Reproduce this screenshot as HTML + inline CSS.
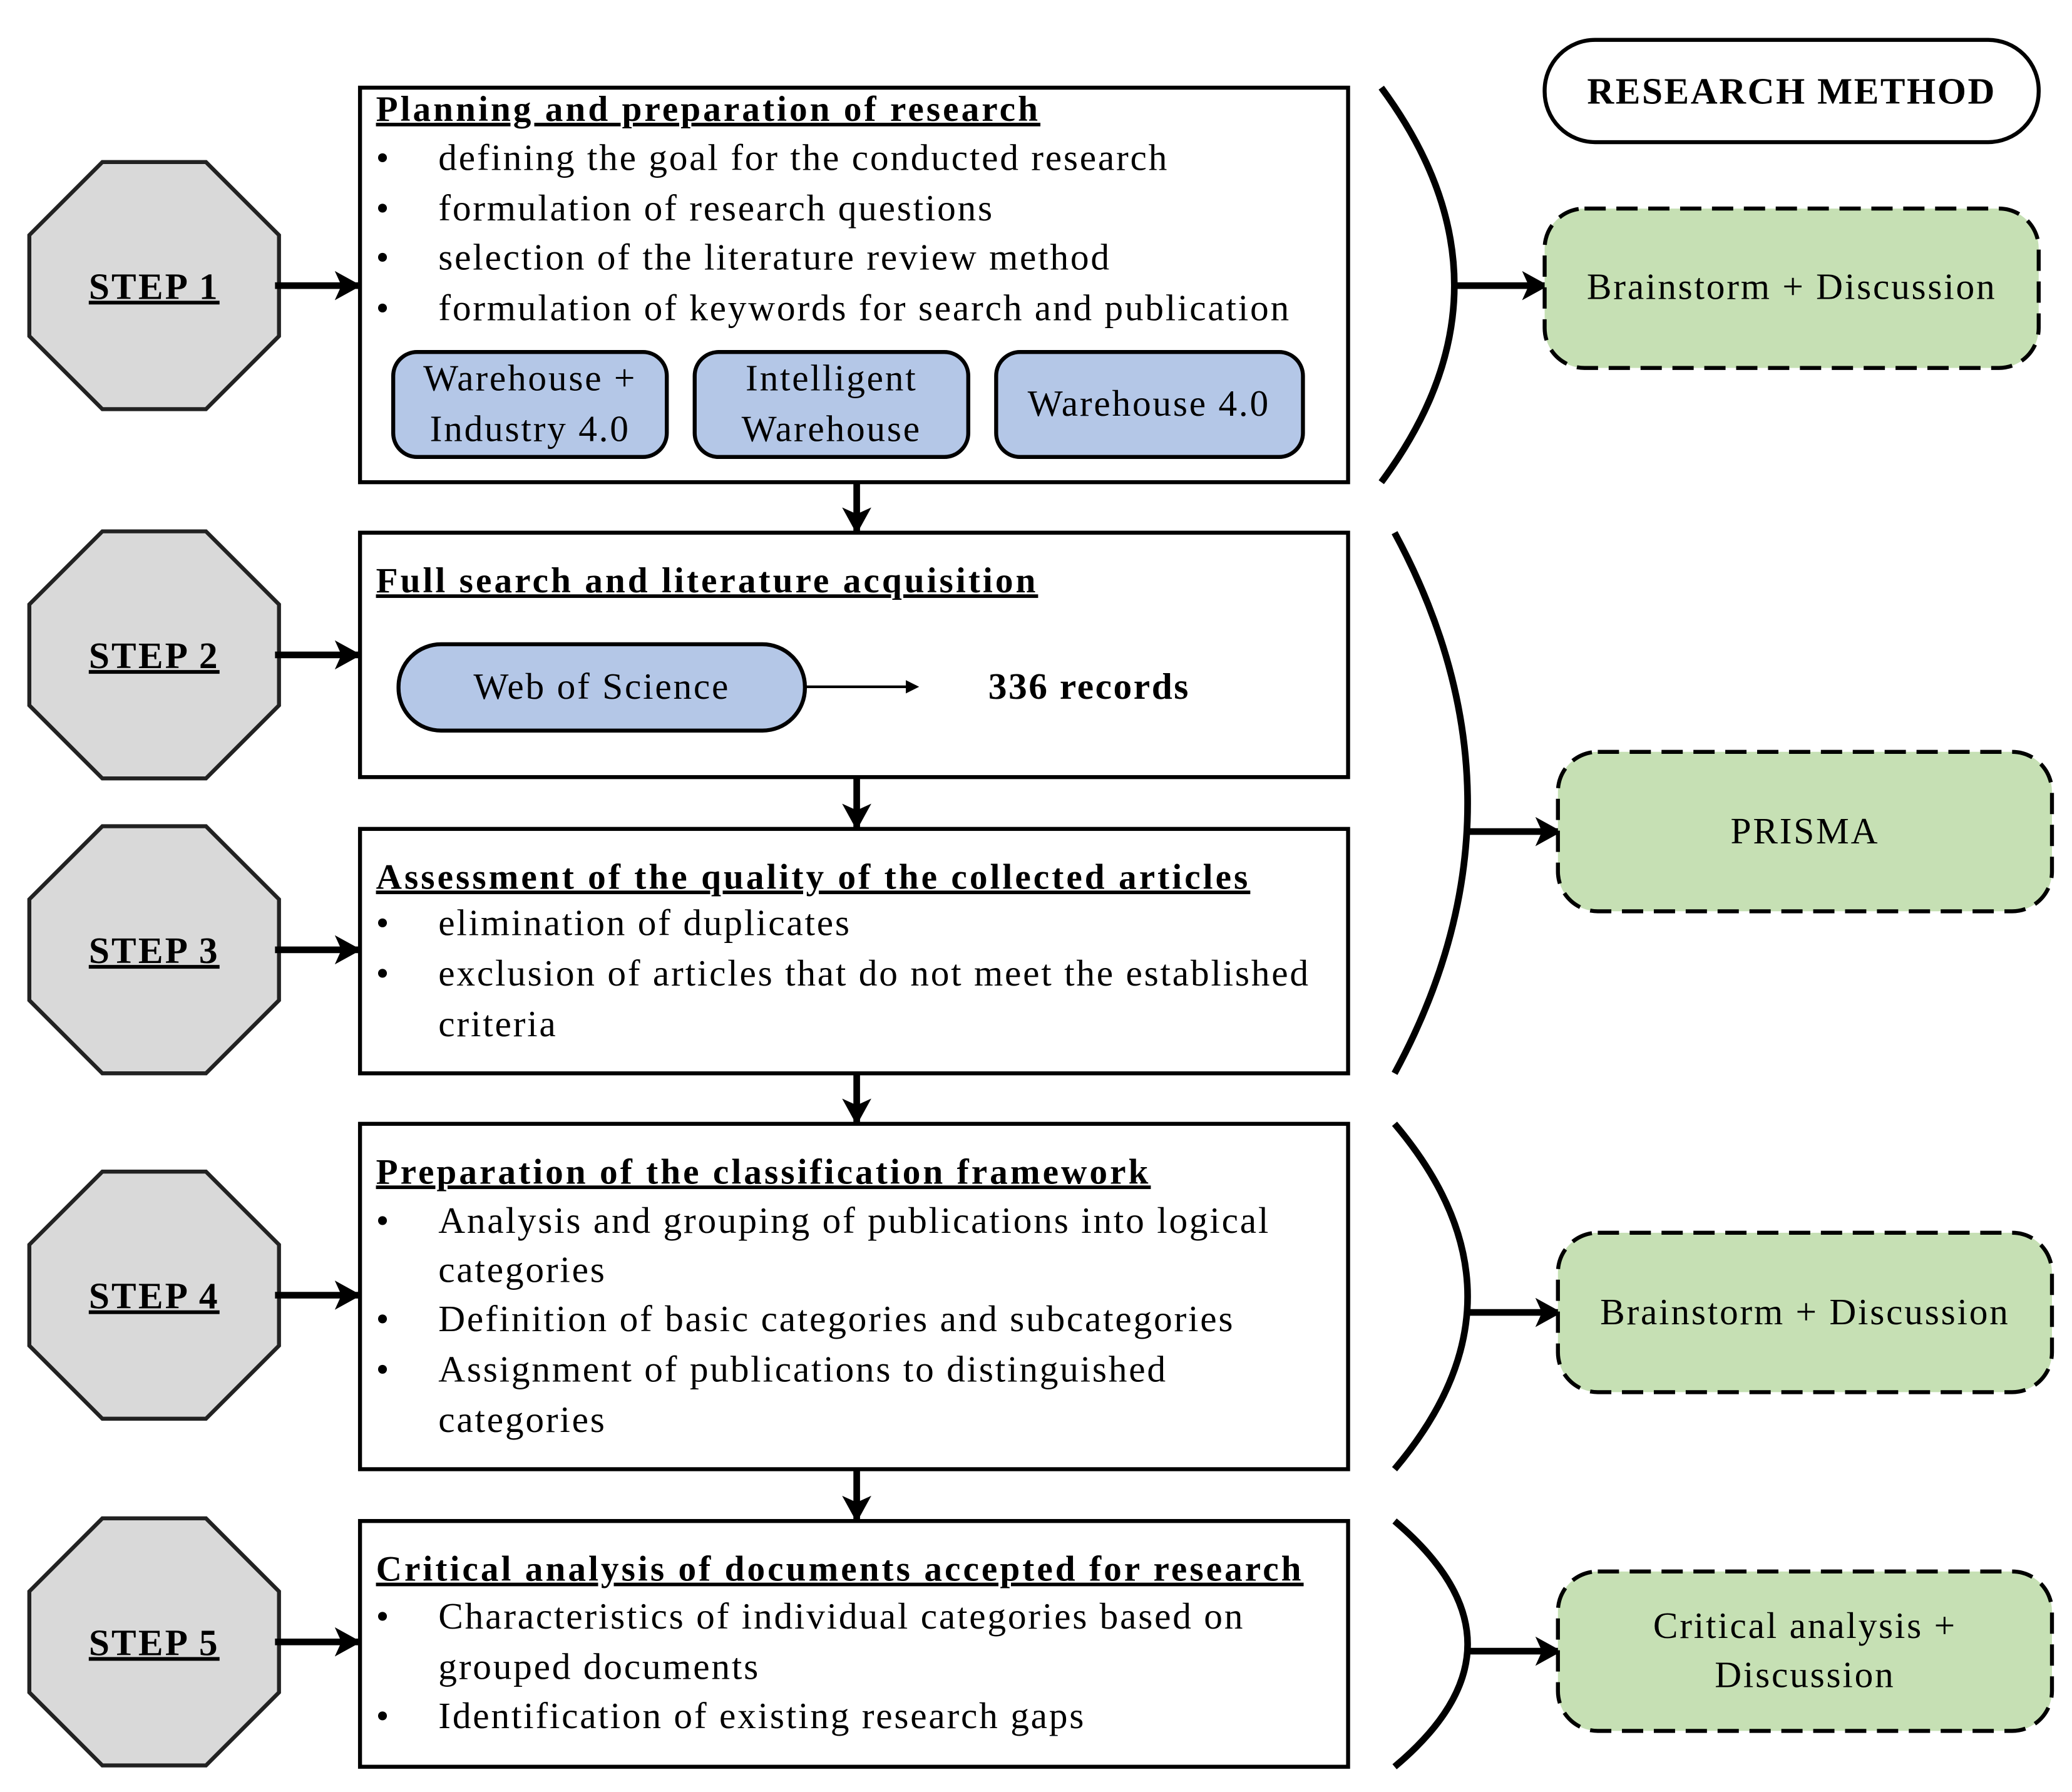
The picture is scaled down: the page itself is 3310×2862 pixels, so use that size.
<!DOCTYPE html>
<html><head><meta charset="utf-8"><style>html,body{margin:0;padding:0;background:#fff}svg{display:block}</style></head><body>
<svg width="3310" height="2862" viewBox="0 0 1560 1349" xmlns="http://www.w3.org/2000/svg" font-family="Liberation Serif, serif">
<defs><marker id="ah" markerWidth="10" markerHeight="10" refX="8" refY="5" orient="auto" markerUnits="userSpaceOnUse"><path d="M0,0 L10,5 L0,10 z" fill="#000"/></marker>
<marker id="ab" markerWidth="22" markerHeight="22" refX="18" refY="11" orient="auto" markerUnits="userSpaceOnUse"><path d="M0,0 L20,11 L0,22 L5,11 z" fill="#000"/></marker></defs>
<g stroke="#222" stroke-width="3" fill="#d9d9d9">
<polygon points="77,122 155,122 210,177 210,253 155,308 77,308 22,253 22,177"/>
<polygon points="77,400 155,400 210,455 210,531 155,586 77,586 22,531 22,455"/>
<polygon points="77,622 155,622 210,677 210,753 155,808 77,808 22,753 22,677"/>
<polygon points="77,882 155,882 210,937 210,1013 155,1068 77,1068 22,1013 22,937"/>
<polygon points="77,1143 155,1143 210,1198 210,1274 155,1329 77,1329 22,1274 22,1198"/>
</g>
<g font-weight="bold" font-size="28" text-anchor="middle" text-decoration="underline" letter-spacing="1.5">
<text x="116" y="225">STEP 1</text><text x="116" y="503">STEP 2</text><text x="116" y="725">STEP 3</text><text x="116" y="985">STEP 4</text><text x="116" y="1246">STEP 5</text>
</g>
<g stroke="#000" stroke-width="5" fill="none" marker-end="url(#ab)">
<line x1="207" y1="215" x2="270" y2="215"/><line x1="207" y1="493" x2="270" y2="493"/><line x1="207" y1="715" x2="270" y2="715"/><line x1="207" y1="975" x2="270" y2="975"/><line x1="207" y1="1236" x2="270" y2="1236"/>
<line x1="645" y1="363" x2="645" y2="400"/><line x1="645" y1="586" x2="645" y2="623"/><line x1="645" y1="808" x2="645" y2="845"/><line x1="645" y1="1106" x2="645" y2="1144"/>
<line x1="1095" y1="215" x2="1164" y2="215"/><line x1="1105" y1="626" x2="1174" y2="626"/><line x1="1105" y1="988" x2="1174" y2="988"/><line x1="1105" y1="1243" x2="1174" y2="1243"/>
</g>
<g stroke="#000" stroke-width="5" fill="none">
<path d="M1040,66 Q1150,215 1040,363"/>
<path d="M1050,401 Q1160,605 1050,808"/>
<path d="M1050,846 Q1160,976 1050,1106"/>
<path d="M1050,1145 Q1160,1238 1050,1330"/>
</g>
<g stroke="#000" stroke-width="3" fill="#fff">
<rect x="271" y="66" width="744" height="297"/><rect x="271" y="401" width="744" height="184"/><rect x="271" y="624" width="744" height="184"/><rect x="271" y="846" width="744" height="260"/><rect x="271" y="1145" width="744" height="185"/>
<rect x="1163" y="30" width="372" height="77" rx="38"/>
</g>
<g stroke="#000" stroke-width="3" fill="#b4c7e7">
<rect x="296" y="265" width="206" height="79" rx="18"/><rect x="523" y="265" width="206" height="79" rx="18"/><rect x="750" y="265" width="231" height="79" rx="18"/><rect x="300" y="485" width="306" height="65" rx="32"/>
</g>
<g stroke="#000" stroke-width="3" fill="#c6e0b4" stroke-dasharray="16,8">
<rect x="1163" y="157" width="372" height="120" rx="30"/><rect x="1173" y="566" width="372" height="120" rx="30"/><rect x="1173" y="928" width="372" height="120" rx="30"/><rect x="1173" y="1183" width="372" height="120" rx="30"/>
</g>
<line x1="606" y1="517" x2="690" y2="517" stroke="#000" stroke-width="2" marker-end="url(#ah)"/>
<g font-size="27" font-weight="bold" text-decoration="underline" letter-spacing="1.9">
<text x="283" y="91">Planning and preparation of research</text>
<text x="283" y="446">Full search and literature acquisition</text>
<text x="283" y="669">Assessment of the quality of the collected articles</text>
<text x="283" y="891">Preparation of the classification framework</text>
<text x="283" y="1190">Critical analysis of documents accepted for research</text>
</g>
<text x="1349" y="78" font-size="28" font-weight="bold" text-anchor="middle" letter-spacing="1.2">RESEARCH METHOD</text>
<text x="820" y="526" font-size="28" font-weight="bold" text-anchor="middle" letter-spacing="1.2">336 records</text>
<g font-size="28">
<g font-size="28"><text x="283" y="128">•</text><text x="283" y="166">•</text><text x="283" y="203">•</text><text x="283" y="241">•</text>
<text x="283" y="704">•</text><text x="283" y="742">•</text>
<text x="283" y="928">•</text><text x="283" y="1002">•</text><text x="283" y="1040">•</text>
<text x="283" y="1226">•</text><text x="283" y="1301">•</text></g>
<g letter-spacing="1.3">
<text x="330" y="128">defining the goal for the conducted research</text>
<text x="330" y="166">formulation of research questions</text>
<text x="330" y="203">selection of the literature review method</text>
<text x="330" y="241">formulation of keywords for search and publication</text>
<text x="330" y="704">elimination of duplicates</text>
<text x="330" y="742">exclusion of articles that do not meet the established</text>
<text x="330" y="780">criteria</text>
<text x="330" y="928">Analysis and grouping of publications into logical</text>
<text x="330" y="965">categories</text>
<text x="330" y="1002">Definition of basic categories and subcategories</text>
<text x="330" y="1040">Assignment of publications to distinguished</text>
<text x="330" y="1078">categories</text>
<text x="330" y="1226">Characteristics of individual categories based on</text>
<text x="330" y="1264">grouped documents</text>
<text x="330" y="1301">Identification of existing research gaps</text>
<g text-anchor="middle">
<text x="399" y="294">Warehouse +</text><text x="399" y="332">Industry 4.0</text>
<text x="626" y="294">Intelligent</text><text x="626" y="332">Warehouse</text>
<text x="865" y="313">Warehouse 4.0</text>
<text x="453" y="526">Web of Science</text>
<text x="1349" y="225">Brainstorm + Discussion</text>
<text x="1359" y="635">PRISMA</text>
<text x="1359" y="997">Brainstorm + Discussion</text>
<text x="1359" y="1233">Critical analysis +</text><text x="1359" y="1270">Discussion</text>
</g></g></g>
</svg>
</body></html>
